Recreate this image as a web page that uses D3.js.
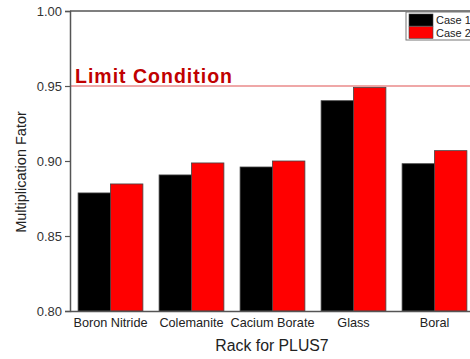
<!DOCTYPE html>
<html>
<head>
<meta charset="utf-8">
<script src="https://cdn.jsdelivr.net/npm/d3@7"></script>
<style>
  body { margin: 0; background: #fff; overflow: hidden; }
  svg { display: block; font-family: "Liberation Sans", Arial, sans-serif; }
</style>
</head>
<body>
<div id="chart"></div>
<script>
const categories = ["Boron Nitride", "Colemanite", "Cacium Borate", "Glass", "Boral"];
const seriesNames = ["Case 1", "Case 2"];
const case1 = [0.8787, 0.8907, 0.8960, 0.9402, 0.8982];
const case2 = [0.8847, 0.8987, 0.9000, 0.9491, 0.9069];
const yTicks = [0.80, 0.85, 0.90, 0.95, 1.00];
const limitValue = 0.95;

const colors = ["#000000", "#ff0000"];
const margin = {t: 11, l: 70, b: 48};
const W = 470, H = 359;
const plotW = 405;  // plot runs past the right edge of the picture
const plotH = H - margin.t - margin.b;

const svg = d3.select("#chart").append("svg")
    .attr("width", W).attr("height", H);
const g = svg.append("g").attr("transform", "translate(" + margin.l + "," + margin.t + ")");

const y = d3.scaleLinear().domain([0.80, 1.00]).range([plotH, 0]);
const x = d3.scaleBand().domain(categories).range([0, plotW]).paddingInner(0.2).paddingOuter(0.1);
const xs = d3.scaleBand().domain(seriesNames).range([0, x.bandwidth()]);

// bars
const rows = categories.map((c, i) => ({c: c, v: [case1[i], case2[i]]}));
const grp = g.selectAll(".grp").data(rows).enter().append("g")
    .attr("transform", d => "translate(" + x(d.c) + ",0)");
grp.selectAll("rect").data(d => d.v.map((v, j) => ({v: v, s: seriesNames[j], j: j})))
    .enter().append("rect")
    .attr("x", d => xs(d.s))
    .attr("y", d => y(d.v))
    .attr("width", xs.bandwidth())
    .attr("height", d => plotH - y(d.v))
    .attr("fill", d => colors[d.j])
    .attr("stroke", "#444").attr("stroke-width", 0.8);

// limit line
g.append("line")
    .attr("x1", 0).attr("x2", plotW)
    .attr("y1", y(limitValue)).attr("y2", y(limitValue))
    .attr("stroke", "#e05050").attr("stroke-width", 1.2);
g.append("text")
    .attr("x", 5).attr("y", y(limitValue) - 3)
    .attr("fill", "#c00000").attr("font-weight", "bold")
    .attr("font-size", 19.5).attr("letter-spacing", 1)
    .text("Limit Condition");

// axes
const yAxis = g.append("g").call(d3.axisLeft(y).tickValues(yTicks).tickFormat(d3.format(".2f")).tickSizeOuter(0).tickSize(5));
yAxis.select(".domain").attr("stroke", "#555").attr("stroke-width", 1.5);
yAxis.selectAll(".tick line").attr("stroke", "#555").attr("stroke-width", 1.2);
yAxis.selectAll(".tick text").attr("font-size", 13).attr("fill", "#333").attr("x", -8)
    .attr("font-family", "Liberation Sans, Arial, sans-serif");

const xAxis = g.append("g").attr("transform", "translate(0," + plotH + ")")
    .call(d3.axisBottom(x).tickSize(0).tickSizeOuter(0));
xAxis.select(".domain").attr("stroke", "#555").attr("stroke-width", 1.5);
xAxis.selectAll(".tick text").attr("font-size", 12.7).attr("fill", "#222").attr("dy", "0.71em").attr("y", 7)
    .attr("font-family", "Liberation Sans, Arial, sans-serif");

// top frame
g.append("line").attr("x1", 0).attr("x2", plotW).attr("y1", 0).attr("y2", 0)
    .attr("stroke", "#555").attr("stroke-width", 1.5);

// titles
svg.append("text")
    .attr("x", 272).attr("y", 351)
    .attr("text-anchor", "middle").attr("font-size", 15.8).attr("fill", "#222")
    .text("Rack for PLUS7");
svg.append("text")
    .attr("transform", "translate(26,172) rotate(-90)")
    .attr("text-anchor", "middle").attr("font-size", 14.5).attr("fill", "#222")
    .text("Multiplication Fator");

// legend
const leg = svg.append("g").attr("transform", "translate(406,12)");
leg.append("rect").attr("x", 0).attr("y", 0).attr("width", 80).attr("height", 28)
    .attr("fill", "#fff").attr("stroke", "#777").attr("stroke-width", 1);
seriesNames.forEach((s, i) => {
    leg.append("rect").attr("x", 3).attr("y", 2 + i * 12.5).attr("width", 24).attr("height", 12)
        .attr("fill", colors[i]).attr("stroke", "#444").attr("stroke-width", 0.6);
    leg.append("text").attr("x", 30).attr("y", 12 + i * 12.5)
        .attr("font-size", 11).attr("fill", "#222").text(s);
});
</script>
</body>
</html>
